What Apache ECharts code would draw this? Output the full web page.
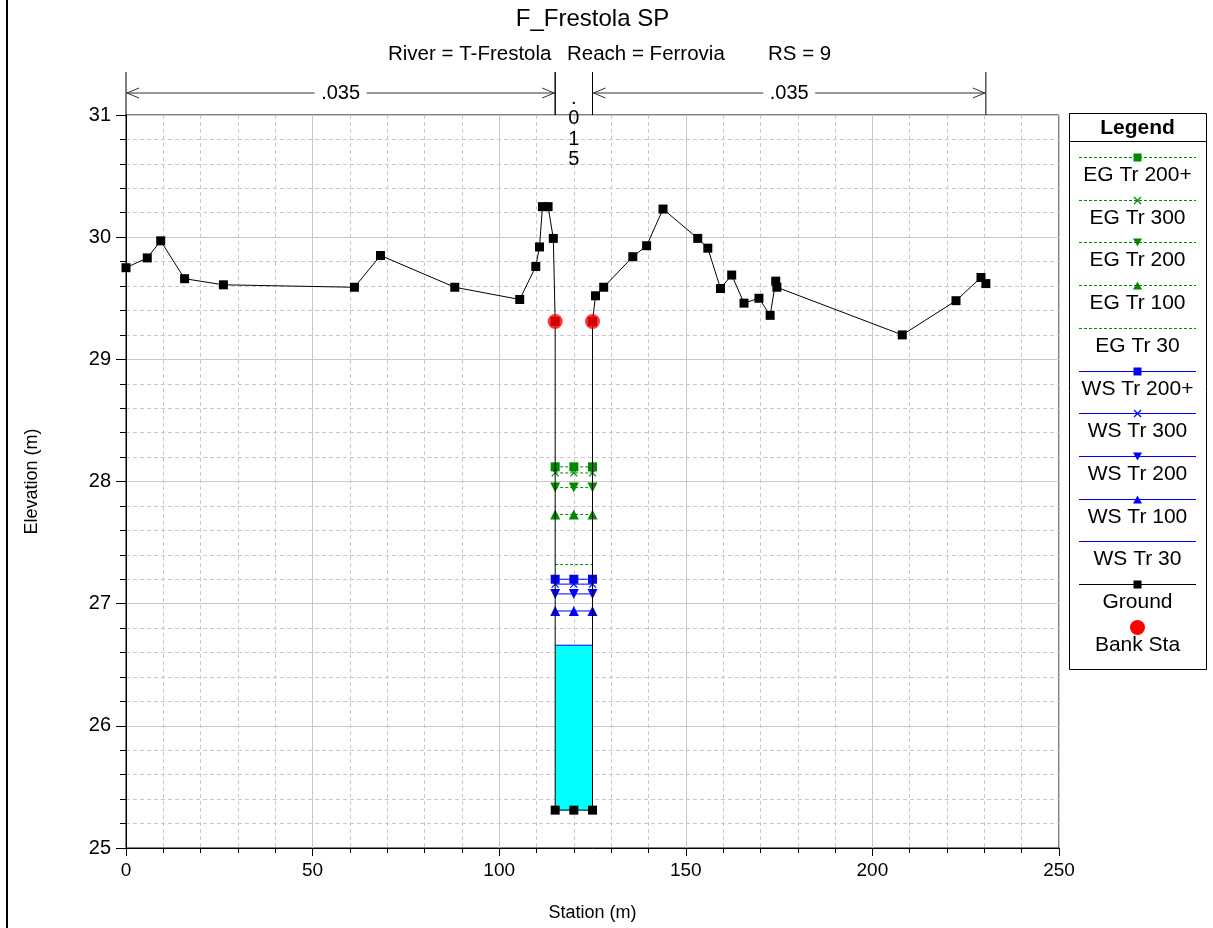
<!DOCTYPE html>
<html><head><meta charset="utf-8">
<script src="https://cdn.jsdelivr.net/npm/echarts@6/dist/echarts.min.js"></script>
<style>html,body{margin:0;padding:0;background:#fff}#c{width:1213px;height:928px}</style>
</head><body><div id="c"></div>
<script>
// ---------------- DATA ----------------
const titleText = 'F_Frestola SP';
const subtitleParts = ['River = T-Frestola', 'Reach = Ferrovia', 'RS = 9'];
const xAxisName = 'Station (m)';
const yAxisName = 'Elevation (m)';

const groundStation = [0, 5.7, 9.3, 15.7, 26.1, 61.2, 68.2, 88.1, 105.5, 109.8, 110.8, 111.6, 113.1, 114.5, 115, 115, 120, 125, 125, 125.8, 128.0, 135.8, 139.5, 143.9, 153.2, 155.9, 159.3, 162.3, 165.6, 169.6, 172.6, 174.1, 174.4, 208.0, 222.4, 229.1, 230.4];
const groundElev = [29.75, 29.83, 29.97, 29.66, 29.61, 29.59, 29.85, 29.59, 29.49, 29.76, 29.92, 30.25, 30.25, 29.99, 29.31, 25.31, 25.31, 25.31, 29.31, 29.52, 29.59, 29.84, 29.93, 30.23, 29.99, 29.91, 29.58, 29.69, 29.46, 29.50, 29.36, 29.64, 29.59, 29.20, 29.48, 29.67, 29.62];

const bankStation = [115, 125];
const bankElev = [29.31, 29.31];

const channelStation = [115, 120, 125];
const profileNames = ['EG Tr 200+', 'EG Tr 300', 'EG Tr 200', 'EG Tr 100', 'EG Tr 30', 'WS Tr 200+', 'WS Tr 300', 'WS Tr 200', 'WS Tr 100', 'WS Tr 30'];
const profileElev = [28.12, 28.07, 27.95, 27.73, 27.32, 27.20, 27.16, 27.08, 26.94, 26.66];

const nStart = [0, 115, 125];
const nEnd = [115, 125, 230.4];
const nValues = ['.035', '.015', '.035'];

const xTicks = [0, 250, 50];   // min, max, interval
const yTicks = [25, 31, 1];

// ---------------- STYLES ----------------
const FONT = "'Liberation Sans', Arial, sans-serif";
const EG_COLOR = '#008a00', WS_COLOR = '#0000ff';
const profileStyle = [
  {color: EG_COLOR, dash: [3, 2], mk: 'rect'},
  {color: EG_COLOR, dash: [3, 2], mk: 'x'},
  {color: EG_COLOR, dash: [3, 2], mk: 'down'},
  {color: EG_COLOR, dash: [3, 2], mk: 'up'},
  {color: EG_COLOR, dash: [3, 2], mk: 'none'},
  {color: WS_COLOR, dash: 'solid', mk: 'rect'},
  {color: WS_COLOR, dash: 'solid', mk: 'x'},
  {color: WS_COLOR, dash: 'solid', mk: 'down'},
  {color: WS_COLOR, dash: 'solid', mk: 'up'},
  {color: WS_COLOR, dash: 'solid', mk: 'none'}
];
const XPATH = 'path://M0,0L10,10M0,10L10,0';
function symbolOf(mk) {
  switch (mk) {
    case 'rect': return {symbol: 'rect', symbolSize: 9, symbolRotate: 0};
    case 'x': return {symbol: XPATH, symbolSize: 7, symbolRotate: 0};
    case 'down': return {symbol: 'triangle', symbolSize: 10, symbolRotate: 180};
    case 'up': return {symbol: 'triangle', symbolSize: 10, symbolRotate: 0};
    default: return {symbol: 'none', symbolSize: 0, symbolRotate: 0};
  }
}

const chart = echarts.init(document.getElementById('c'), null, {renderer: 'canvas'});
const GRID = {left: 126, right: 154, top: 115, bottom: 80};
const plotCx = GRID.left + (1213 - GRID.left - GRID.right) / 2;

const ws30 = profileElev[profileNames.indexOf('WS Tr 30')];

const series = [];
// cyan water fill for WS Tr 30
series.push({
  type: 'custom', name: 'fill', silent: true, z: 1,
  data: [[channelStation[1], ws30]],
  renderItem: function (params, api) {
    const pts = [api.coord([bankStation[0], ws30]), api.coord([bankStation[1], ws30])];
    for (let j = groundStation.length - 1; j >= 0; j--) {
      const s = groundStation[j], e = groundElev[j];
      if (s >= bankStation[0] && s <= bankStation[1] && e < ws30) pts.push(api.coord([s, e]));
    }
    return {type: 'polygon', shape: {points: pts}, style: {fill: '#00ffff'}};
  }
});

profileNames.forEach(function (name, i) {
  const st = profileStyle[i];
  const sym = symbolOf(st.mk);
  series.push({
    type: 'line', name: name, z: 3,
    data: channelStation.map(s => [s, profileElev[i]]),
    symbol: sym.symbol, symbolSize: sym.symbolSize, symbolRotate: sym.symbolRotate,
    showSymbol: sym.symbol !== 'none',
    lineStyle: {color: st.color, width: 1, type: st.dash},
    itemStyle: {color: st.mk === 'x' ? 'rgba(0,0,0,0)' : st.color, borderColor: st.color, borderWidth: st.mk === 'x' ? 1.2 : 0},
    animation: false, silent: true
  });
});

series.push({
  type: 'line', name: 'Ground', z: 4,
  data: groundStation.map((s, i) => [s, groundElev[i]]),
  symbol: 'rect', symbolSize: 9,
  lineStyle: {color: '#000', width: 1},
  itemStyle: {color: '#000'},
  animation: false, silent: true
});
series.push({
  type: 'scatter', name: 'Bank Sta', z: 5,
  data: bankStation.map((s, i) => [s, bankElev[i]]),
  symbol: 'circle', symbolSize: 15,
  itemStyle: {color: '#ff0000'},
  animation: false, silent: true
});

// Manning's n annotation above the plot
series.push({
  type: 'custom', name: 'nvalues', silent: true, clip: false, z: 6,
  data: nStart.map((s, i) => [s, nEnd[i], i]),
  encode: {x: [0, 1], y: 2},
  renderItem: function (params, api) {
    const i = api.value(2);
    const p0 = api.coord([api.value(0), yTicks[1]]);
    const p1 = api.coord([api.value(1), yTicks[1]]);
    const top = p0[1] - 43, ay = p0[1] - 22;
    const lineStyle = {stroke: '#000', lineWidth: 1};
    const arrStyle = {stroke: '#333', lineWidth: 1, fill: null};
    const ch = [
      {type: 'line', shape: {x1: p0[0], y1: top, x2: p0[0], y2: p0[1]}, style: lineStyle},
      {type: 'line', shape: {x1: p1[0], y1: top, x2: p1[0], y2: p1[1]}, style: lineStyle}
    ];
    const label = nValues[i];
    const cx = (p0[0] + p1[0]) / 2;
    if (p1[0] - p0[0] > 80) {
      const half = 26;
      ch.push({type: 'line', shape: {x1: p0[0], y1: ay, x2: cx - half, y2: ay}, style: arrStyle});
      ch.push({type: 'line', shape: {x1: cx + half, y1: ay, x2: p1[0], y2: ay}, style: arrStyle});
      ch.push({type: 'polyline', shape: {points: [[p0[0] + 13, ay - 5], [p0[0] + 1, ay], [p0[0] + 13, ay + 5]]}, style: arrStyle});
      ch.push({type: 'polyline', shape: {points: [[p1[0] - 13, ay - 5], [p1[0] - 1, ay], [p1[0] - 13, ay + 5]]}, style: arrStyle});
      ch.push({type: 'text', x: cx, y: ay, style: {text: label, align: 'center', verticalAlign: 'middle', font: '20px ' + FONT, fill: '#000'}});
    } else {
      ch.push({type: 'text', x: cx, y: top + 16, style: {text: label.split('').join('\n'), align: 'center', verticalAlign: 'top', lineHeight: 20.5, font: '20px ' + FONT, fill: '#000'}});
    }
    return {type: 'group', children: ch};
  }
});

// ---------------- LEGEND (drawn) ----------------
const LG = {x: 1069, y: 113, w: 137, h: 556, lineX0: 1079, lineX1: 1196, firstLine: 157, pitch: 42.7, textOff: 18};
const legendItems = profileNames.map((n, i) => ({name: n, color: profileStyle[i].color, dash: profileStyle[i].dash, mk: profileStyle[i].mk}));
legendItems.push({name: 'Ground', color: '#000', dash: 'solid', mk: 'rect'});
legendItems.push({name: 'Bank Sta', color: '#ff0000', dash: null, mk: 'circle'});

function markerGraphic(mk, cx, cy, color) {
  switch (mk) {
    case 'rect': return [{type: 'rect', shape: {x: cx - 4, y: cy - 4, width: 8, height: 8}, style: {fill: color}}];
    case 'x': return [
      {type: 'line', shape: {x1: cx - 3.5, y1: cy - 3.5, x2: cx + 3.5, y2: cy + 3.5}, style: {stroke: color, lineWidth: 1.2}},
      {type: 'line', shape: {x1: cx - 3.5, y1: cy + 3.5, x2: cx + 3.5, y2: cy - 3.5}, style: {stroke: color, lineWidth: 1.2}}];
    case 'down': return [{type: 'polygon', shape: {points: [[cx - 4.5, cy - 4], [cx + 4.5, cy - 4], [cx, cy + 4]]}, style: {fill: color}}];
    case 'up': return [{type: 'polygon', shape: {points: [[cx - 4.5, cy + 4], [cx + 4.5, cy + 4], [cx, cy - 4]]}, style: {fill: color}}];
    case 'circle': return [{type: 'circle', shape: {cx: cx, cy: cy, r: 7.5}, style: {fill: color}}];
    default: return [];
  }
}
const legendChildren = [
  {type: 'rect', shape: {x: LG.x + 0.5, y: LG.y + 0.5, width: LG.w, height: LG.h}, style: {fill: '#fff', stroke: '#000', lineWidth: 1}},
  {type: 'line', shape: {x1: LG.x, y1: LG.y + 28.5, x2: LG.x + LG.w, y2: LG.y + 28.5}, style: {stroke: '#000', lineWidth: 1}},
  {type: 'text', x: LG.x + LG.w / 2, y: LG.y + 15, style: {text: 'Legend', align: 'center', verticalAlign: 'middle', font: 'bold 21px ' + FONT, fill: '#000'}}
];
legendItems.forEach(function (it, i) {
  const ly = Math.round(LG.firstLine + i * LG.pitch) + 0.5;
  const mid = (LG.lineX0 + LG.lineX1) / 2;
  if (it.dash) {
    legendChildren.push({type: 'line', shape: {x1: LG.lineX0, y1: ly, x2: LG.lineX1, y2: ly},
      style: {stroke: it.color, lineWidth: 1, lineDash: it.dash === 'solid' ? null : it.dash}});
  }
  markerGraphic(it.mk, mid, ly, it.color).forEach(g => legendChildren.push(g));
  legendChildren.push({type: 'text', x: mid, y: ly + LG.textOff, style: {text: it.name, align: 'center', verticalAlign: 'middle', font: '21px ' + FONT, fill: '#000'}});
});

const subX = [388, 567, 768];
const subGraphics = subtitleParts.map((t, i) => ({type: 'text', x: subX[i], y: 54,
  style: {text: t, align: 'left', verticalAlign: 'middle', font: '20.5px ' + FONT, fill: '#000'}}));

const option = {
  backgroundColor: '#fff',
  animation: false,
  grid: Object.assign({show: true, borderColor: '#000', borderWidth: 1, backgroundColor: 'transparent'}, GRID),
  xAxis: {
    type: 'value', min: xTicks[0], max: xTicks[1], interval: xTicks[2],
    name: xAxisName, nameLocation: 'middle', nameGap: 56,
    nameTextStyle: {fontFamily: FONT, fontSize: 18, color: '#000'},
    axisLine: {show: true, onZero: false, lineStyle: {color: '#000', width: 1}},
    axisTick: {show: true, length: 8, lineStyle: {color: '#000'}},
    minorTick: {show: true, splitNumber: 5, length: 5, lineStyle: {color: '#000'}},
    axisLabel: {fontFamily: FONT, fontSize: 19, color: '#000', margin: 13},
    splitLine: {show: true, lineStyle: {color: '#c8c8c8', width: 1}},
    minorSplitLine: {show: true, lineStyle: {color: '#c8c8c8', width: 1, type: [4, 3]}}
  },
  yAxis: {
    type: 'value', min: yTicks[0], max: yTicks[1], interval: yTicks[2],
    name: yAxisName, nameLocation: 'middle', nameGap: 85,
    nameTextStyle: {fontFamily: FONT, fontSize: 18, color: '#000'},
    axisLine: {show: true, onZero: false, lineStyle: {color: '#000', width: 1}},
    axisTick: {show: true, length: 10, lineStyle: {color: '#000'}},
    minorTick: {show: true, splitNumber: 5, length: 6, lineStyle: {color: '#000'}},
    axisLabel: {fontFamily: FONT, fontSize: 20, color: '#000', margin: 15},
    splitLine: {show: true, lineStyle: {color: '#c8c8c8', width: 1}},
    minorSplitLine: {show: true, lineStyle: {color: '#c8c8c8', width: 1, type: [4, 3]}}
  },
  graphic: [
    {type: 'line', shape: {x1: 7, y1: 0, x2: 7, y2: 928}, style: {stroke: '#000', lineWidth: 2}},
    {type: 'text', x: plotCx, y: 19, style: {text: titleText, align: 'center', verticalAlign: 'middle', font: '24px ' + FONT, fill: '#000'}},
    {type: 'group', children: subGraphics},
    {type: 'group', children: legendChildren}
  ],
  series: series
};
chart.setOption(option);
</script>
</body></html>
